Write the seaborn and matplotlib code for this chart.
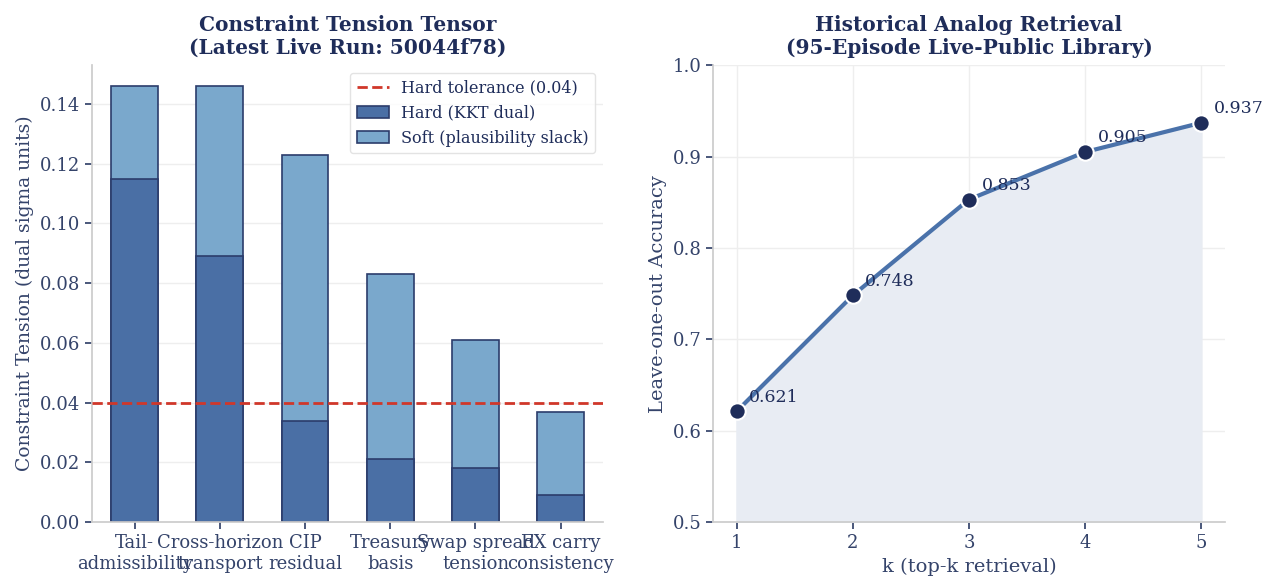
import numpy as np
import pandas as pd
import matplotlib
matplotlib.use("Agg")
import matplotlib.pyplot as plt
import seaborn as sns

# --- data ---
constraints = ["Tail-\nadmissibility", "Cross-horizon\ntransport", "CIP\nresidual",
               "Treasury\nbasis", "Swap spread\ntension", "FX carry\nconsistency"]
hard_dual = [0.115, 0.089, 0.034, 0.021, 0.018, 0.009]
soft_slack = [0.031, 0.057, 0.089, 0.062, 0.043, 0.028]
hard_tol = 0.04

k_values = [1, 2, 3, 4, 5]
accuracy = [0.621, 0.748, 0.853, 0.905, 0.937]

NAVY = "#1f2d5a"
TICK_C = "#34436a"
HARD_C = "#4a6fa5"
SOFT_C = "#7aa8cc"
EDGE_C = "#2b3c6b"
RED = "#d0372a"

sns.set_theme(style="white")
plt.rcParams["font.family"] = ["DejaVu Serif"]
plt.rcParams.update({
    "text.color": NAVY, "axes.labelcolor": TICK_C,
    "xtick.color": TICK_C, "ytick.color": TICK_C,
    "axes.edgecolor": "#cccccc",
    "xtick.major.size": 5, "ytick.major.size": 5,
    "xtick.bottom": True, "ytick.left": True,
})

df = pd.DataFrame({"constraint": constraints, "hard": hard_dual, "soft": soft_slack})
df["total"] = df["hard"] + df["soft"]

fig, (ax1, ax2) = plt.subplots(1, 2, figsize=(12.69, 5.82), dpi=100)
fig.subplots_adjust(left=0.0725, right=0.965, top=0.888, bottom=0.103, wspace=0.215)

# 1. stacked tension bars
sns.barplot(data=df, x="constraint", y="total", color=SOFT_C, width=0.55,
            edgecolor=EDGE_C, linewidth=1.2, saturation=1, ax=ax1,
            label="Soft (plausibility slack)")
sns.barplot(data=df, x="constraint", y="hard", color=HARD_C, width=0.55,
            edgecolor=EDGE_C, linewidth=1.2, saturation=1, ax=ax1,
            label="Hard (KKT dual)")
ax1.axhline(hard_tol, color=RED, ls="--", lw=2, label="Hard tolerance (0.04)", zorder=5)
ax1.set_ylim(0, 0.153)
ax1.set_yticks(np.arange(0, 0.141, 0.02))
ax1.set_yticklabels([f"{v:.2f}" for v in np.arange(0, 0.141, 0.02)])
ax1.set_xlabel("")
ax1.set_ylabel("Constraint Tension (dual sigma units)", fontsize=13.5)
ax1.set_title("Constraint Tension Tensor\n(Latest Live Run: 50044f78)",
              fontsize=14.5, fontweight="bold", color=NAVY, pad=8)
ax1.tick_params(labelsize=13)
ax1.yaxis.grid(True, color="#eeeeee", lw=1)
ax1.set_axisbelow(True)
handles, labels = ax1.get_legend_handles_labels()
order = [labels.index(l) for l in ["Hard tolerance (0.04)", "Hard (KKT dual)", "Soft (plausibility slack)"]]
leg = ax1.legend([handles[i] for i in order], [labels[i] for i in order],
                 loc="upper right", fontsize=11.5, frameon=True, edgecolor="#dddddd")
for t in leg.get_texts():
    t.set_color(NAVY)

# 2. analog retrieval accuracy
ax2.fill_between(k_values, 0.5, accuracy, color="#e8ecf3", zorder=1)
sns.lineplot(x=k_values, y=accuracy, ax=ax2, color="#4a72aa", lw=3, zorder=2)
sns.scatterplot(x=k_values, y=accuracy, ax=ax2, color=NAVY, s=140,
                edgecolor="white", linewidth=1.5, zorder=3)
for k, a in zip(k_values, accuracy):
    ax2.annotate(f"{a:.3f}", (k, a), xytext=(9, 7), textcoords="offset points",
                 fontsize=12.5, color=NAVY)
ax2.set_xlim(0.8, 5.2)
ax2.set_ylim(0.5, 1.0)
ax2.set_xticks(k_values)
ax2.set_xlabel("k (top-k retrieval)", fontsize=14)
ax2.set_ylabel("Leave-one-out Accuracy", fontsize=14)
ax2.set_title("Historical Analog Retrieval\n(95-Episode Live-Public Library)",
              fontsize=14.5, fontweight="bold", color=NAVY, pad=8)
ax2.tick_params(labelsize=13)
ax2.grid(True, color="#eeeeee", lw=1)
ax2.set_axisbelow(True)

sns.despine(fig)
plt.savefig("out.png", dpi=100)
plt.close()
